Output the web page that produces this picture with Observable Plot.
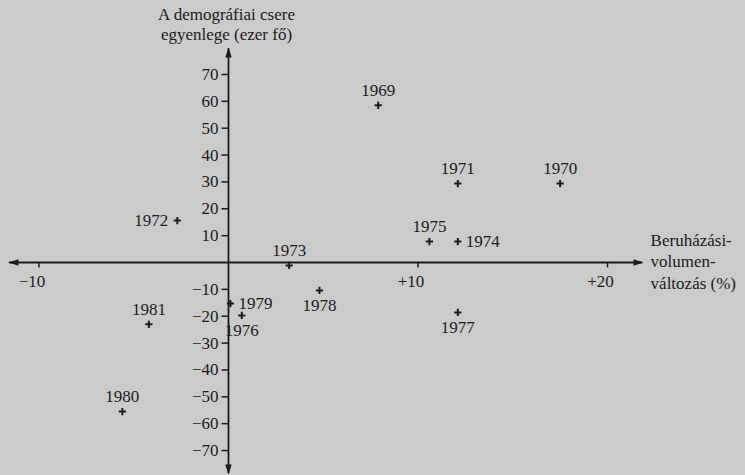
<!DOCTYPE html>
<html>
<head>
<meta charset="utf-8">
<script src="https://cdn.jsdelivr.net/npm/d3@7"></script>
<script src="https://cdn.jsdelivr.net/npm/@observablehq/plot@0.6"></script>
<style>
  html, body { margin: 0; padding: 0; background: #cbcbcb; }
  #chart svg { display: block; }
  #chart svg, #chart svg text, #chart svg tspan { font-family: "Liberation Serif", "Times New Roman", Tinos, serif !important; }
</style>
</head>
<body>
<div id="chart"></div>
<script>
// ---- data ----
const years   = ["1969","1970","1971","1972","1973","1974","1975","1976","1977","1978","1979","1980","1981"];
const invest  = [7.9, 17.5, 12.1, -2.7, 3.2, 12.1, 10.6, 0.7, 12.1, 4.8, 0.1, -5.6, -4.2];   // Beruházási-volumen-változás (%)
const balance = [58.5, 29.4, 29.4, 15.6, -1.1, 7.8, 7.8, -19.7, -18.6, -10.4, -15.3, -55.5, -23.0]; // A demográfiai csere egyenlege (ezer fő)
const xTicks = [-10, 10, 20];
const xTickLabels = ["\u221210", "+10", "+20"];
const yTicks = [70, 60, 50, 40, 30, 20, 10, -10, -20, -30, -40, -50, -60, -70];
const yTickLabels = ["70","60","50","40","30","20","10","\u221210","\u221220","\u221230","\u221240","\u221250","\u221260","\u221270"];
const yTitle = "A demográfiai csere\negyenlege (ezer fő)";
const xTitle = "Beruházási-\nvolumen-\nváltozás (%)";

// ---- layout ----
const ink = "#1c1c1c";
const fontName = "Liberation Serif";
const labelSide = {"1969":"above","1970":"above","1971":"above","1972":"left","1973":"above",
  "1974":"right","1975":"above","1976":"below","1977":"below","1978":"below","1979":"right",
  "1980":"above","1981":"above"};
const xDomain = [-12.03, 27.28], yDomain = [-79.3, 97.54];
const xAxisExt = [-11.56, 21.85], yAxisExt = [-78.6, 79.7];

const pts = years.map((yr, i) => ({year: yr, x: invest[i], y: balance[i], side: labelSide[yr]}));

const plusSym = {draw(ctx, size) { const r = Math.sqrt(size / Math.PI);
  ctx.moveTo(-r, 0); ctx.lineTo(r, 0); ctx.moveTo(0, -r); ctx.lineTo(0, r); }};
const headSym = {draw(ctx) { ctx.moveTo(1, 0); ctx.lineTo(-9, -3.2); ctx.lineTo(-9, 3.2); ctx.closePath(); }};
const tickDown = {draw(ctx) { ctx.moveTo(0, 0); ctx.lineTo(0, 5); }};
const tickLeft = {draw(ctx) { ctx.moveTo(-7, 0); ctx.lineTo(0, 0); }};

const heads = [
  {x: xAxisExt[1], y: 0, rot: 0}, {x: xAxisExt[0], y: 0, rot: 180},
  {x: 0, y: yAxisExt[1], rot: -90}, {x: 0, y: yAxisExt[0], rot: 90}
];

const textOpts = {fill: ink, fontSize: 17, fontFamily: fontName};

const chart = Plot.plot({
  width: 745, height: 475,
  marginTop: 0, marginRight: 0, marginBottom: 0, marginLeft: 0,
  x: {domain: xDomain, axis: null},
  y: {domain: yDomain, axis: null},
  style: {fontFamily: fontName, background: "#cbcbcb"},
  marks: [
    Plot.ruleY([0], {x1: xAxisExt[0], x2: xAxisExt[1], stroke: ink, strokeWidth: 1.8}),
    Plot.ruleX([0], {y1: yAxisExt[0], y2: yAxisExt[1], stroke: ink, strokeWidth: 1.8}),
    Plot.dot(heads, {x: "x", y: "y", rotate: "rot", symbol: headSym, r: 4, fill: ink, stroke: "none"}),
    Plot.dot(xTicks, {x: d => d, y: () => 0, symbol: tickDown, r: 4, fill: "none", stroke: ink, strokeWidth: 1.5}),
    Plot.dot(yTicks, {x: () => 0, y: d => d, symbol: tickLeft, r: 4, fill: "none", stroke: ink, strokeWidth: 1.5}),
    Plot.text(xTicks, {x: d => d, y: () => 0, text: (d, i) => xTickLabels[i], dx: -7, dy: 19, ...textOpts}),
    Plot.text(yTicks, {x: () => 0, y: d => d, text: (d, i) => yTickLabels[i], textAnchor: "end", dx: -10, ...textOpts}),
    Plot.text([yTitle], {x: () => 0, frameAnchor: "top", lineAnchor: "top", lineHeight: 1.2, dx: -2, dy: 5, ...textOpts}),
    Plot.text([xTitle], {x: () => xAxisExt[1], y: () => 0, textAnchor: "start", lineHeight: 1.25, dx: 8, dy: -2, ...textOpts}),
    Plot.dot(pts, {x: "x", y: "y", symbol: plusSym, r: 3.6, fill: "none", stroke: ink, strokeWidth: 2}),
    Plot.text(pts.filter(d => d.side === "above"), {x: "x", y: "y", text: "year", dy: -15, ...textOpts}),
    Plot.text(pts.filter(d => d.side === "below"), {x: "x", y: "y", text: "year", dy: 15, ...textOpts}),
    Plot.text(pts.filter(d => d.side === "left"), {x: "x", y: "y", text: "year", textAnchor: "end", dx: -9, ...textOpts}),
    Plot.text(pts.filter(d => d.side === "right"), {x: "x", y: "y", text: "year", textAnchor: "start", dx: 8, ...textOpts})
  ]
});
chart.querySelectorAll("text, tspan").forEach(el => {
  el.setAttribute("font-family", fontName);
  el.style.setProperty("font-family", "'Liberation Serif', 'Times New Roman', serif", "important");
});
document.getElementById("chart").appendChild(chart);
</script>
</body>
</html>
